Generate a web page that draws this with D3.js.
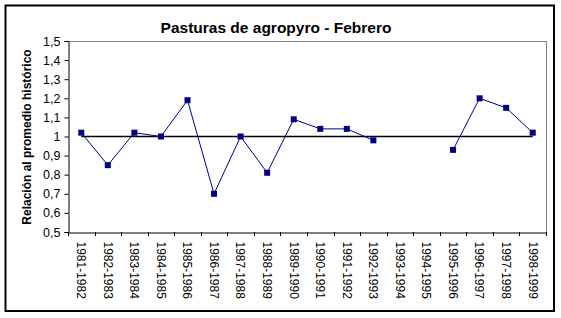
<!DOCTYPE html>
<html>
<head>
<meta charset="utf-8">
<script src="https://cdn.jsdelivr.net/npm/d3@7"></script>
<style>
  body { margin: 0; background: #fff; }
  text { font-family: "Liberation Sans", Arial, sans-serif; }
</style>
</head>
<body>
<div id="chart"></div>
<script>
// data
const categories = ["1981-1982", "1982-1983", "1983-1984", "1984-1985", "1985-1986", "1986-1987",
  "1987-1988", "1988-1989", "1989-1990", "1990-1991", "1991-1992", "1992-1993", "1993-1994",
  "1994-1995", "1995-1996", "1996-1997", "1997-1998", "1998-1999"];
const relacion = [1.02, 0.85, 1.02, 1.00, 1.19, 0.70, 1.00, 0.81, 1.09, 1.04, 1.04, 0.98,
  null, null, 0.93, 1.20, 1.15, 1.02];
const promedio = categories.map(() => 1);
const yTicks = [0.5, 0.6, 0.7, 0.8, 0.9, 1, 1.1, 1.2, 1.3, 1.4, 1.5];
const yTickLabels = ["0,5", "0,6", "0,7", "0,8", "0,9", "1", "1,1", "1,2", "1,3", "1,4", "1,5"];

const W = 561, H = 318;
const plotLeft = 68, plotRight = 546, plotTop = 41, plotBottom = 232;

const svg = d3.select("#chart").append("svg")
  .attr("width", W)
  .attr("height", H);

// outer border
svg.append("rect")
  .attr("x", 5.5).attr("y", 5.5)
  .attr("width", 548.5).attr("height", 305.5)
  .attr("fill", "#fff")
  .attr("stroke", "#000")
  .attr("stroke-width", 2);

const x = d3.scaleBand().domain(categories).range([plotLeft, plotRight]);
const y = d3.scaleLinear().domain([0.5, 1.5]).range([plotBottom, plotTop]);

// plot area frame (top & right in gray)
svg.append("path")
  .attr("d", `M${plotLeft},${plotTop + 0.5}H${plotRight + 0.5}V${plotBottom}`)
  .attr("fill", "none")
  .attr("stroke", "#808080")
  .attr("stroke-width", 1);

// y axis
const yAxis = svg.append("g")
  .attr("transform", `translate(${plotLeft + 0.5},0)`)
  .call(d3.axisLeft(y)
    .tickValues(yTicks)
    .tickSize(4)
    .tickPadding(4)
    .tickFormat((d, i) => yTickLabels[i]));
yAxis.select(".domain").attr("stroke", "#000");
yAxis.selectAll(".tick line").attr("stroke", "#000");
yAxis.selectAll("text")
  .style("font-size", "12.5px")
  .style("font-family", "Liberation Sans, Arial, sans-serif")
  .attr("fill", "#000");

// x axis: labels rotated, ticks on category boundaries
const xAxis = svg.append("g")
  .attr("transform", `translate(0,${plotBottom + 0.5})`)
  .call(d3.axisBottom(x).tickSize(0).tickPadding(0));
xAxis.select(".domain").attr("stroke", "#000");
xAxis.selectAll("text")
  .style("font-size", "12px")
  .style("font-family", "Liberation Sans, Arial, sans-serif")
  .attr("fill", "#000")
  .attr("text-anchor", "start")
  .attr("transform", "translate(0,9) rotate(90)")
  .attr("x", 0)
  .attr("y", 0)
  .attr("dy", "0.35em");

const bounds = categories.map(c => x(c)).concat([plotRight]);
svg.append("g").selectAll("line")
  .data(bounds)
  .join("line")
  .attr("x1", d => Math.round(d) + 0.5)
  .attr("x2", d => Math.round(d) + 0.5)
  .attr("y1", plotBottom)
  .attr("y2", plotBottom + 4)
  .attr("stroke", "#000");

const cx = c => x(c) + x.bandwidth() / 2;

// reference line at 1
svg.append("path")
  .datum(promedio)
  .attr("fill", "none")
  .attr("stroke", "#000")
  .attr("stroke-width", 1.5)
  .attr("d", d3.line()
    .x((d, i) => cx(categories[i]))
    .y(d => y(d)));

// series
svg.append("path")
  .datum(relacion)
  .attr("fill", "none")
  .attr("stroke", "#000080")
  .attr("stroke-width", 1)
  .attr("d", d3.line()
    .defined(d => d != null)
    .x((d, i) => cx(categories[i]))
    .y(d => y(d)));

svg.append("g").selectAll("rect")
  .data(relacion.map((v, i) => ({ c: categories[i], v })).filter(d => d.v != null))
  .join("rect")
  .attr("x", d => cx(d.c) - 3)
  .attr("y", d => y(d.v) - 3)
  .attr("width", 6)
  .attr("height", 6)
  .attr("fill", "#000080");

// titles
svg.append("text")
  .attr("x", 276)
  .attr("y", 33)
  .attr("text-anchor", "middle")
  .style("font-size", "15.5px")
  .style("font-weight", "bold")
  .text("Pasturas de agropyro - Febrero");

svg.append("text")
  .attr("transform", "translate(31,137) rotate(-90)")
  .attr("text-anchor", "middle")
  .style("font-size", "12px")
  .style("font-weight", "bold")
  .text("Relación al promedio histórico");
</script>
</body>
</html>
